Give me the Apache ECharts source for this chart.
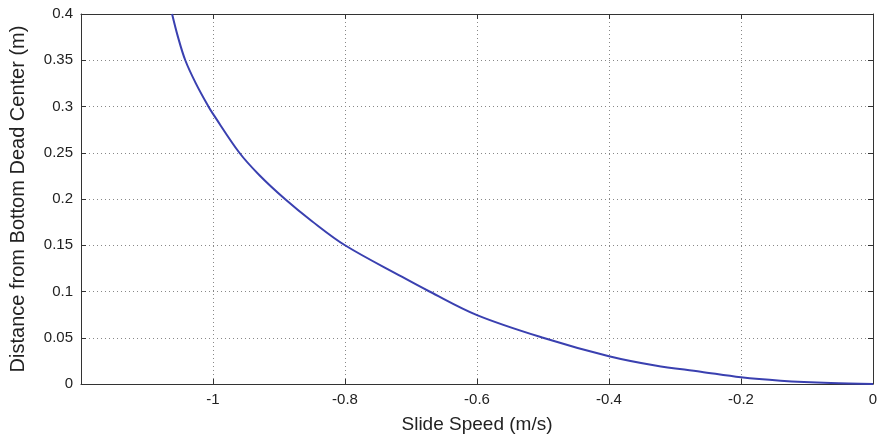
<!DOCTYPE html>
<html>
<head>
<meta charset="utf-8">
<script src="https://cdn.jsdelivr.net/npm/echarts@6/dist/echarts.min.js"></script>
<style>
  html, body { margin: 0; padding: 0; background: #fff; }
  #chart { width: 882px; height: 443px; }
</style>
</head>
<body>
<div id="chart"></div>
<script>
// slide speed (m/s) vs distance from BDC (m)
var speed = [-1.062, -1.053, -1.042, -1.026, -1.007, -1.0, -0.96, -0.93, -0.891, -0.85, -0.8, -0.714, -0.672, -0.6, -0.5, -0.4, -0.33, -0.261, -0.2, -0.14, -0.064, 0];
var distance = [0.4, 0.375, 0.35, 0.325, 0.3, 0.292, 0.25, 0.226, 0.2, 0.176, 0.15, 0.116, 0.1, 0.0745, 0.05, 0.030, 0.020, 0.0133, 0.0072, 0.0036, 0.001, 0];

var points = [];
for (var i = 0; i < speed.length; i++) {
  points.push([speed[i], distance[i]]);
}

var chart = echarts.init(document.getElementById('chart'));
var font = 'Liberation Sans, Arial, sans-serif';
var axisLine = { show: true, onZero: false, lineStyle: { color: '#333', width: 1 } };
var tick = { show: true, inside: true, length: 5, lineStyle: { color: '#333' } };
var dotted = { show: true, lineStyle: { color: '#888', type: [1, 3], width: 1 } };

var option = {
  animation: false,
  grid: { left: 80, right: 9, top: 14, bottom: 59 },
  xAxis: [{
    type: 'value',
    min: -1.2,
    max: 0,
    interval: 0.2,
    name: 'Slide Speed (m/s)',
    nameLocation: 'middle',
    nameGap: 31,
    nameTextStyle: { fontFamily: font, fontSize: 19, color: '#222', verticalAlign: 'top' },
    axisLine: axisLine,
    axisTick: tick,
    axisLabel: {
      margin: 8,
      fontFamily: font, fontSize: 15, color: '#222',
      formatter: function (v) { return Math.abs(v + 1.2) < 1e-9 ? '' : String(+v.toFixed(2)); }
    },
    splitLine: dotted
  }, {
    type: 'value',
    position: 'top',
    min: -1.2,
    max: 0,
    interval: 0.2,
    axisLine: axisLine,
    axisTick: tick,
    axisLabel: { show: false },
    splitLine: { show: false }
  }],
  yAxis: [{
    type: 'value',
    min: 0,
    max: 0.4,
    interval: 0.05,
    name: 'Distance from Bottom Dead Center (m)',
    nameLocation: 'middle',
    nameGap: 53,
    nameTextStyle: { fontFamily: font, fontSize: 20, color: '#222' },
    axisLine: axisLine,
    axisTick: tick,
    axisLabel: {
      margin: 8,
      fontFamily: font, fontSize: 15, color: '#222',
      formatter: function (v) { return String(+v.toFixed(2)); }
    },
    splitLine: dotted
  }, {
    type: 'value',
    position: 'right',
    min: 0,
    max: 0.4,
    interval: 0.05,
    axisLine: axisLine,
    axisTick: tick,
    axisLabel: { show: false },
    splitLine: { show: false }
  }],
  series: [{
    type: 'line',
    data: points,
    smooth: 0.35,
    showSymbol: false,
    lineStyle: { color: '#3a40b0', width: 2 },
    clip: true
  }]
};

chart.setOption(option);
</script>
</body>
</html>
